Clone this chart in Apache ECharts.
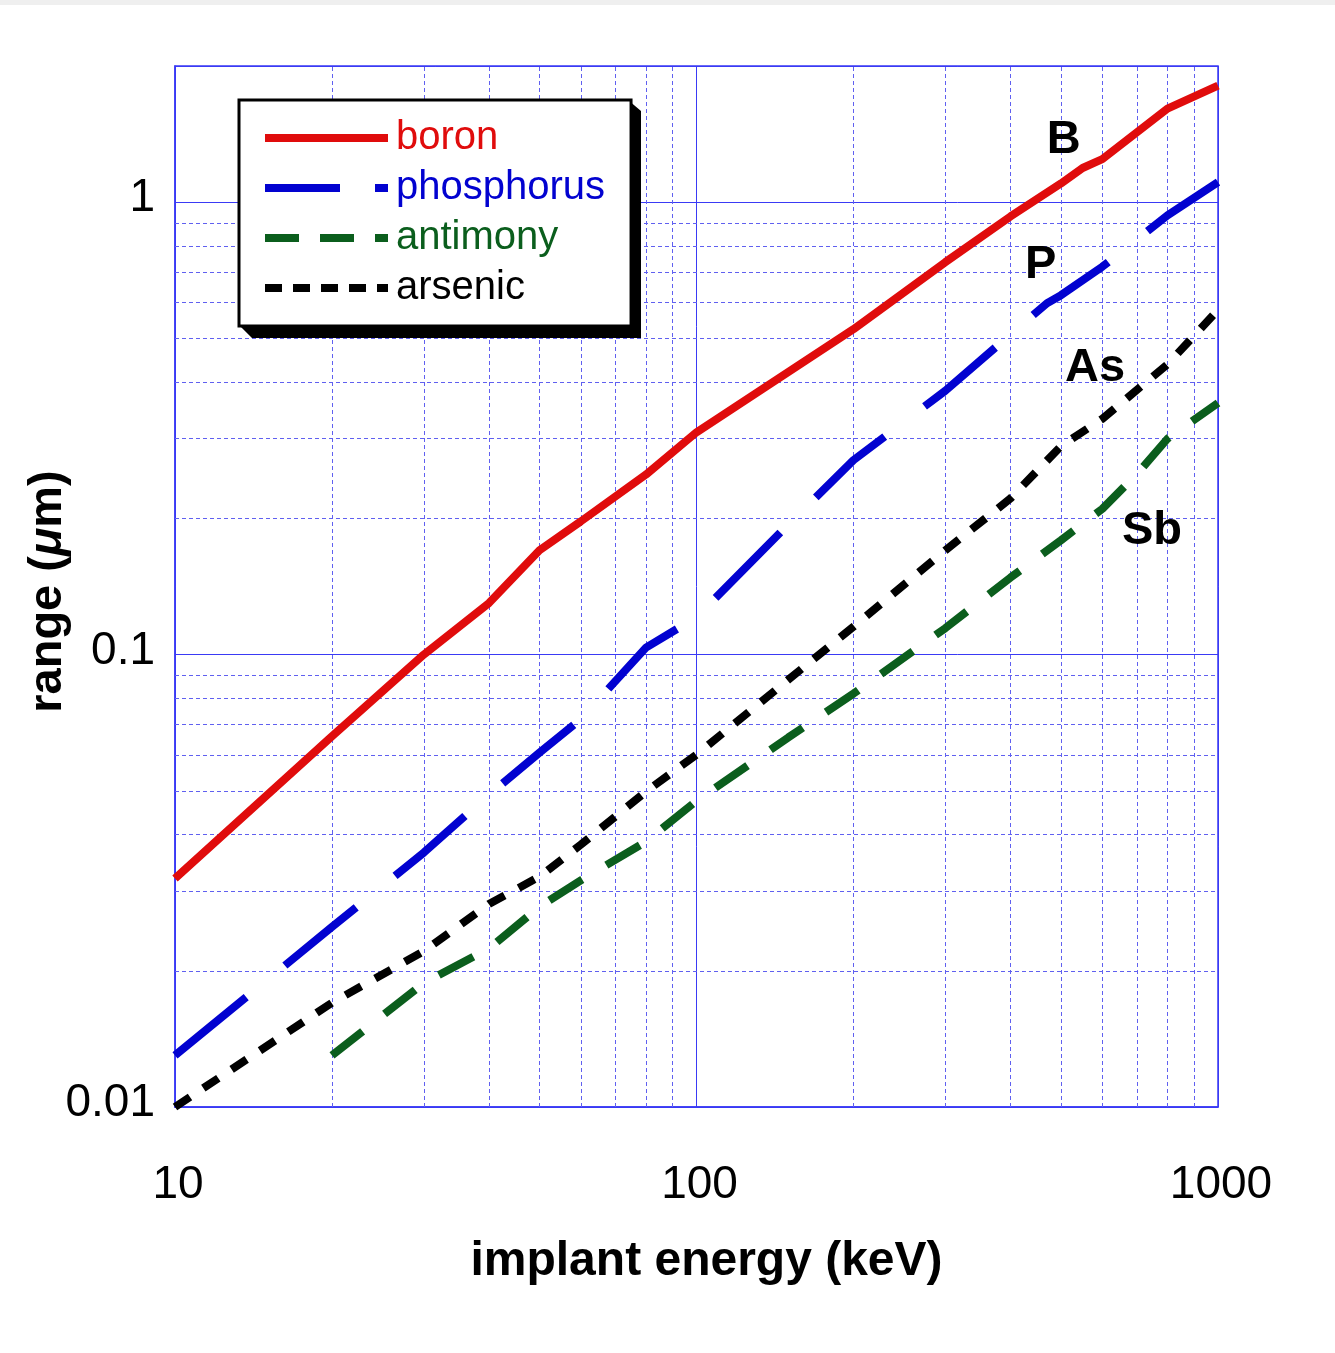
<!DOCTYPE html>
<html><head><meta charset="utf-8">
<script src="https://cdn.jsdelivr.net/npm/echarts@6/dist/echarts.min.js"></script>
<style>html,body{margin:0;padding:0;background:#fff}#c{width:1335px;height:1353px}</style>
</head><body><div id="c"></div>
<script>
// ---- data ----
const energyBoron = [10, 20, 30, 40, 50, 60, 80, 100, 200, 300, 400, 500, 550, 600, 800, 1000];
const rangeBoron  = [0.032, 0.066, 0.100, 0.130, 0.170, 0.197, 0.250, 0.310, 0.524, 0.737, 0.93, 1.10, 1.19, 1.245, 1.61, 1.81];

const energyPhos = [10, 20, 30, 40, 50, 60, 80, 100, 150, 200, 300, 400, 470, 500, 600, 800, 1000];
const rangePhos  = [0.0130, 0.0250, 0.0365, 0.049, 0.0607, 0.072, 0.1036, 0.121, 0.194, 0.269, 0.383, 0.510, 0.598, 0.623, 0.720, 0.935, 1.107];

const energySb = [20, 30, 40, 50, 60, 80, 100, 150, 200, 300, 400, 500, 600, 700, 800, 1000];
const rangeSb  = [0.0130, 0.0188, 0.0224, 0.0277, 0.0317, 0.0386, 0.0475, 0.0656, 0.082, 0.1144, 0.148, 0.179, 0.210, 0.251, 0.300, 0.360];

const energyAs = [10, 20, 30, 40, 50, 60, 80, 100, 150, 200, 300, 400, 500, 600, 800, 1000];
const rangeAs  = [0.0100, 0.0170, 0.0221, 0.0281, 0.0323, 0.0380, 0.0498, 0.0601, 0.088, 0.1153, 0.170, 0.2214, 0.289, 0.332, 0.438, 0.578];

const seriesNames = ['boron', 'phosphorus', 'antimony', 'arsenic'];
const curveTags   = ['B', 'P', 'As', 'Sb'];
const tagEnergy   = [506, 457, 581, 747];
const tagRange    = [1.40, 0.74, 0.438, 0.191];

const minorX = [20, 30, 40, 50, 60, 70, 80, 90, 200, 300, 400, 500, 600, 700, 800, 900];
const minorY = [0.02, 0.03, 0.04, 0.05, 0.06, 0.07, 0.08, 0.09, 0.2, 0.3, 0.4, 0.5, 0.6, 0.7, 0.8, 0.9];

const xTitle = 'implant energy (keV)';

// ---- chart ----
const FONT = '"Liberation Sans", Arial, Helvetica, sans-serif';
const C_RED = '#e00c0c', C_BLUE = '#0202d0', C_GREEN = '#0b5e1d', C_BLACK = '#000000';
const GRID_BLUE = '#3a3af5', GRID_DASH = '#6060f0';

function pairs(xs, ys) { return xs.map((x, i) => [x, ys[i]]); }
function fmtLog(v) {
  const l = Math.log10(v), k = Math.round(l);
  if (Math.abs(l - k) > 1e-6) return '';
  return k < 0 ? Math.pow(10, k).toFixed(-k) : String(Math.pow(10, k));
}

const chart = echarts.init(document.getElementById('c'), null, {renderer: 'canvas'});
const gridMarks = minorX.map(v => ({xAxis: v})).concat(minorY.map(v => ({yAxis: v})));
const hiddenSym = {color: 'transparent', borderColor: 'transparent', borderWidth: 0, opacity: 0};

chart.setOption({
  animation: false,
  backgroundColor: '#ffffff',
  textStyle: {fontFamily: FONT},
  grid: {left: 175, right: 117, top: 66, bottom: 246, show: true, borderColor: GRID_BLUE, borderWidth: 1.5, backgroundColor: 'transparent'},
  xAxis: {
    type: 'log', logBase: 10, min: 10, max: 1000,
    name: xTitle, nameLocation: 'middle', nameGap: 131, nameMoveOverlap: false,
    nameTextStyle: {fontFamily: FONT, fontSize: 48, fontWeight: 'bold', color: '#000', padding: [0, 0, 0, 20]},
    axisLine: {show: true, lineStyle: {color: GRID_BLUE, width: 1.5}},
    axisTick: {show: false},
    axisLabel: {formatter: fmtLog, fontFamily: FONT, fontSize: 46, color: '#000', margin: 55, padding: [0, 0, 0, 6]},
    splitLine: {show: true, lineStyle: {color: GRID_BLUE, width: 1, type: 'solid'}}
  },
  yAxis: {
    type: 'log', logBase: 10, min: 0.01, max: 2,
    name: '{n|range (}{i|μ}{n|m)}', nameLocation: 'middle', nameGap: 103, nameMoveOverlap: false,
    nameTextStyle: {
      fontFamily: FONT, fontSize: 47, fontWeight: 'bold', color: '#000', padding: [0, 10, 0, 0],
      rich: {
        n: {fontFamily: FONT, fontSize: 47, fontWeight: 'bold', color: '#000'},
        i: {fontFamily: FONT, fontSize: 47, fontWeight: 'bold', fontStyle: 'italic', color: '#000'}
      }
    },
    axisLine: {show: true, lineStyle: {color: GRID_BLUE, width: 1.5}},
    axisTick: {show: false},
    axisLabel: {formatter: fmtLog, fontFamily: FONT, fontSize: 46, color: '#000', margin: 20,
                verticalAlign: 'bottom', lineHeight: 7},
    splitLine: {show: true, lineStyle: {color: GRID_BLUE, width: 1, type: 'solid'}}
  },
  legend: {
    orient: 'vertical', left: 239, top: 100, z: 10,
    data: [
      {name: seriesNames[0], textStyle: {color: C_RED}, lineStyle: {width: 8, type: 'solid', color: C_RED}, itemStyle: hiddenSym},
      {name: seriesNames[1], textStyle: {color: C_BLUE}, lineStyle: {width: 8, type: [75, 35, 13, 40], color: C_BLUE}, itemStyle: hiddenSym},
      {name: seriesNames[2], textStyle: {color: C_GREEN}, lineStyle: {width: 8, type: [34, 21], color: C_GREEN}, itemStyle: hiddenSym},
      {name: seriesNames[3], textStyle: {color: C_BLACK}, lineStyle: {width: 8, type: [17, 11], color: C_BLACK}, itemStyle: hiddenSym}
    ],
    itemStyle: hiddenSym,
    itemWidth: 123, itemHeight: 40, itemGap: 10,
    padding: [18, 26, 18, 22],
    backgroundColor: '#ffffff', borderColor: '#000', borderWidth: 3,
    textStyle: {fontFamily: FONT, fontSize: 40, lineHeight: 40, padding: [0, 0, 0, 3]},
    selectedMode: false
  },
  graphic: [
    {type: 'rect', shape: {x: 0, y: 0, width: 1335, height: 5}, style: {fill: '#efefef'}, z: -1},
    {type: 'polygon', z: 9, silent: true,
     shape: {points: [[628, 100], [641, 111], [641, 338], [252, 338], [239, 325], [628, 325]]},
     style: {fill: '#000'}}
  ],
  series: [
    {
      name: 'gridlines', type: 'line', data: [], z: 1, silent: true,
      markLine: {
        silent: true, symbol: ['none', 'none'], label: {show: false}, animation: false,
        lineStyle: {color: GRID_DASH, width: 1, type: [4, 3]},
        emphasis: {disabled: true},
        data: gridMarks
      }
    },
    {name: seriesNames[0], type: 'line', data: pairs(energyBoron, rangeBoron), symbol: 'none', z: 5,
     lineStyle: {color: C_RED, width: 8, type: 'solid'}, itemStyle: {color: C_RED}},
    {name: seriesNames[1], type: 'line', data: pairs(energyPhos, rangePhos), symbol: 'none', z: 5,
     lineStyle: {color: C_BLUE, width: 8, type: [92, 50]}, itemStyle: {color: C_BLUE}},
    {name: seriesNames[2], type: 'line', data: pairs(energySb, rangeSb), symbol: 'none', z: 5,
     lineStyle: {color: C_GREEN, width: 8, type: [39, 28]}, itemStyle: {color: C_GREEN}},
    {name: seriesNames[3], type: 'line', data: pairs(energyAs, rangeAs), symbol: 'none', z: 5,
     lineStyle: {color: C_BLACK, width: 8, type: [18, 16]}, itemStyle: {color: C_BLACK}},
    {
      name: 'tags', type: 'scatter', z: 6, silent: true,
      data: curveTags.map((t, i) => [tagEnergy[i], tagRange[i], t]),
      symbolSize: 1, itemStyle: {color: 'transparent', opacity: 1},
      emphasis: {disabled: true},
      label: {show: true, position: 'inside', offset: [0, 4], formatter: p => p.data[2], opacity: 1,
              fontFamily: FONT, fontSize: 47, fontWeight: 'bold', color: '#000000'}
    }
  ]
});
</script>
</body></html>
